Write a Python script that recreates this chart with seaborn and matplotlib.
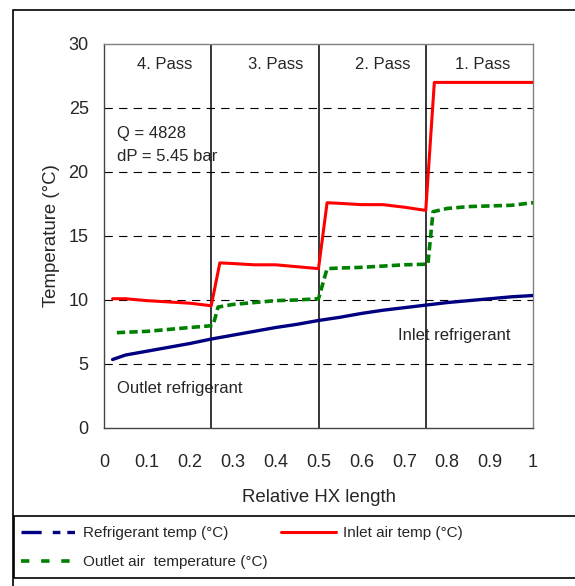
import pandas as pd
import seaborn as sns
import matplotlib.pyplot as plt
from matplotlib.lines import Line2D
from matplotlib.patches import Rectangle

# -----------------------------
# DATA
# -----------------------------

ref_x = [0.02, 0.05, 0.1, 0.15, 0.2, 0.25, 0.3, 0.35, 0.4, 0.45, 0.5,
         0.55, 0.6, 0.65, 0.7, 0.75, 0.8, 0.85, 0.9, 0.95, 1.0]
ref_t = [5.35, 5.7, 6.0, 6.3, 6.6, 6.95, 7.25, 7.55, 7.85, 8.1, 8.4,
         8.65, 8.95, 9.2, 9.4, 9.6, 9.8, 9.95, 10.1, 10.25, 10.35]

inlet_x = [0.02, 0.05, 0.1, 0.15, 0.2, 0.25, 0.27, 0.3, 0.35, 0.4, 0.45, 0.5,
           0.52, 0.55, 0.6, 0.65, 0.7, 0.75, 0.77, 0.8, 0.9, 1.0]
inlet_t = [10.1, 10.1, 9.95, 9.85, 9.75, 9.55, 12.9, 12.85, 12.75, 12.75, 12.6, 12.45,
           17.6, 17.55, 17.45, 17.45, 17.25, 17.0, 27.0, 27.0, 27.0, 27.0]

outlet_x = [0.03, 0.1, 0.15, 0.2, 0.254, 0.266, 0.3, 0.35, 0.4, 0.45, 0.5,
            0.52, 0.55, 0.6, 0.65, 0.7, 0.755, 0.767, 0.8, 0.85, 0.9, 0.95, 1.0]
outlet_t = [7.45, 7.55, 7.7, 7.85, 8.0, 9.45, 9.65, 9.8, 9.95, 10.0, 10.1,
            12.45, 12.5, 12.55, 12.65, 12.75, 12.8, 16.9, 17.15, 17.3, 17.35, 17.4, 17.6]

pass_labels = ["4. Pass", "3. Pass", "2. Pass", "1. Pass"]
pass_pos = [0.141, 0.40, 0.65, 0.883]
pass_bounds = [0.25, 0.5, 0.75]

df = pd.concat([
    pd.DataFrame({"x": ref_x, "t": ref_t, "series": "Refrigerant temp (°C)"}),
    pd.DataFrame({"x": inlet_x, "t": inlet_t, "series": "Inlet air temp (°C)"}),
    pd.DataFrame({"x": outlet_x, "t": outlet_t, "series": "Outlet air  temperature (°C)"}),
])

# -----------------------------
# PLOT
# -----------------------------

sns.set_style("white")
plt.rcParams["font.family"] = ["Liberation Sans", "DejaVu Sans"]
plt.rcParams["lines.scale_dashes"] = False

fig = plt.figure(figsize=(5.75, 5.86), dpi=100)
ax = fig.add_axes([104 / 575, 1 - 428 / 586, 429 / 575, 384 / 586])

# outer frame + legend box (both run off the right edge like the original)
fig.patches.append(Rectangle((13 / 575, -0.02), 1.2, 1 - 10 / 586 + 0.02,
                             transform=fig.transFigure, fill=False,
                             edgecolor="black", linewidth=1.2))
fig.patches.append(Rectangle((14 / 575, 1 - 578 / 586), 1.2, 62 / 586,
                             transform=fig.transFigure, fill=False,
                             edgecolor="black", linewidth=1.2))

# grid + pass separators
for y in [5, 10, 15, 20, 25]:
    ax.axhline(y, color="black", linewidth=0.8, linestyle=(0, (6, 4.5)), zorder=1)
for b in pass_bounds:
    ax.axvline(b, color="black", linewidth=1.1, zorder=1)

colors = {"Refrigerant temp (°C)": "#000080",
          "Inlet air temp (°C)": "#ff0000",
          "Outlet air  temperature (°C)": "#008000"}
widths = {"Refrigerant temp (°C)": 2.4,
          "Inlet air temp (°C)": 2.2,
          "Outlet air  temperature (°C)": 2.6}

for name, sub in df.groupby("series", sort=False):
    sns.lineplot(data=sub, x="x", y="t", ax=ax, color=colors[name],
                 linewidth=widths[name], sort=False, estimator=None,
                 legend=False, zorder=3)
    if name.startswith("Outlet"):
        ax.lines[-1].set_linestyle((0, (6, 3)))
        ax.lines[-1].set_dash_capstyle("butt")

ax.set_xlim(0, 1)
ax.set_ylim(0, 30)
ax.set_xticks([0, 0.1, 0.2, 0.3, 0.4, 0.5, 0.6, 0.7, 0.8, 0.9, 1])
ax.set_xticklabels(["0", "0.1", "0.2", "0.3", "0.4", "0.5", "0.6", "0.7", "0.8", "0.9", "1"])
ax.set_yticks(range(0, 31, 5))
ax.tick_params(axis="both", direction="out", length=5, width=1, color="#555555",
               labelsize=13)
ax.tick_params(axis="y", pad=6)
ax.tick_params(axis="x", pad=14)
for s in ax.spines.values():
    s.set_color("#808080")
    s.set_linewidth(1)
ax.spines["left"].set_color("#444444")
ax.spines["bottom"].set_color("#444444")

ax.set_xlabel("Relative HX length", fontsize=13.4, labelpad=13)
ax.set_ylabel("Temperature (°C)", fontsize=13.4, labelpad=6.5)

for lab, px in zip(pass_labels, pass_pos):
    ax.text(px, 28.4, lab, ha="center", va="center", fontsize=12)

ax.text(0.03, 23.0, "Q = 4828", ha="left", va="center", fontsize=12)
ax.text(0.03, 21.2, "dP = 5.45 bar", ha="left", va="center", fontsize=12)
ax.text(0.03, 3.1, "Outlet refrigerant", ha="left", va="center", fontsize=12)
ax.text(0.686, 7.2, "Inlet refrigerant", ha="left", va="center", fontsize=12)

# legend (column-filled: col 1 = refrigerant, outlet air; col 2 = inlet air)
handles = [
    Line2D([], [], color="#000080", linewidth=2.4, linestyle=(0, (14.5, 8, 5.5, 5, 5.5, 8))),
    Line2D([], [], color="#008000", linewidth=2.6, linestyle=(0, (6, 8.5))),
    Line2D([], [], color="#ff0000", linewidth=2.2),
]
labels = ["Refrigerant temp (°C)", "Outlet air  temperature (°C)", "Inlet air temp (°C)"]
fig.legend(handles, labels, ncol=2, loc="upper left",
           bbox_to_anchor=(21 / 575, 1 - 526 / 586),
           bbox_transform=fig.transFigure, frameon=False,
           fontsize=11, handlelength=3.6, handletextpad=0.45,
           borderaxespad=0, borderpad=0, labelspacing=1.0,
           columnspacing=0.87)

fig.savefig("out.png", dpi=100)
